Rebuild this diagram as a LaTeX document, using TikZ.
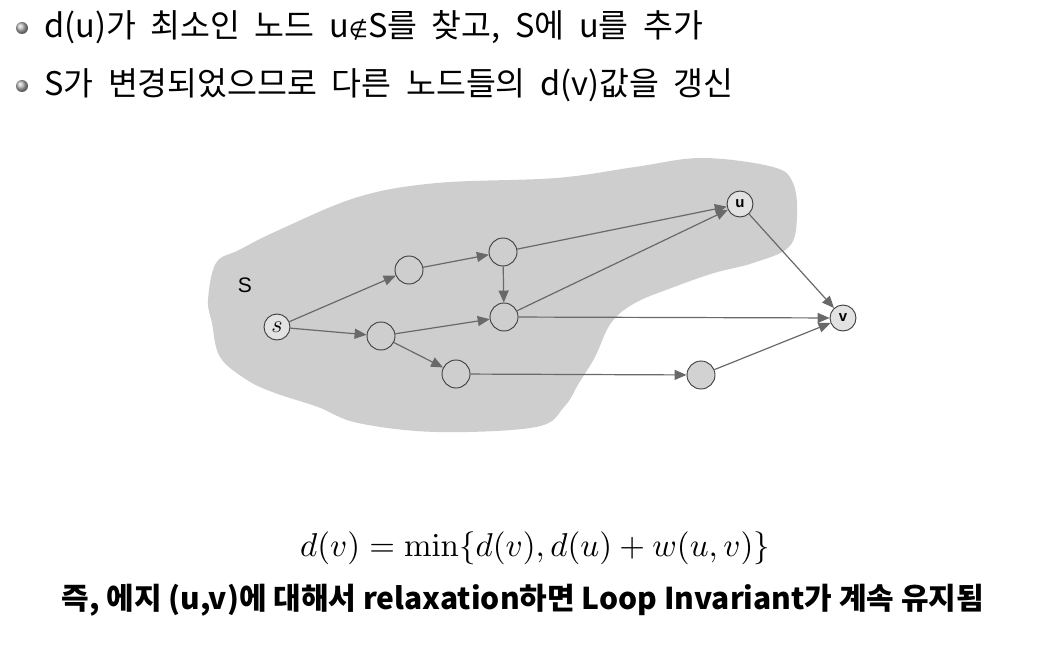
\documentclass[tikz,border=0pt]{standalone}
\usepackage[no-math]{fontspec}
\setmainfont{Noto Sans CJK KR}[WordSpace=2]
\newfontfamily\labelfont{Liberation Sans}
\newfontfamily\notefont{Noto Sans CJK KR}
\newfontfamily\symbolfont{DejaVu Sans}
\usepackage{amsmath}
\usetikzlibrary{arrows.meta, positioning, calc}
\definecolor{blobgray}{RGB}{206, 206, 206}
\definecolor{edgegray}{RGB}{105, 105, 105}
\definecolor{ringgray}{RGB}{60, 60, 60}
\definecolor{lightnode}{RGB}{226, 226, 226}
\definecolor{outnode}{RGB}{210, 210, 210}
\tikzset{
  vertex/.style={circle, draw=ringgray, line width=0.9pt, fill=blobgray, minimum size=28pt, inner sep=0pt},
  endvertex/.style={vertex, fill=lightnode, minimum size=26pt, font=\labelfont\bfseries\fontsize{15}{15}\selectfont},
  edge/.style={draw=edgegray, line width=1.2pt, -{Triangle[length=12pt, width=10pt]}},
  bullettext/.style={anchor=west, inner sep=0pt, font=\fontsize{32.5}{32.5}\selectfont},
  bulletdot/.style={circle, inner sep=0pt, minimum size=12pt, ball color=gray!55},
}

\begin{document}
\begin{tikzpicture}[x=1pt, y=-1pt]
  \useasboundingbox (0,0) rectangle (1045,661);

  % Bullets
  \node[bulletdot] (dot1) at (22,28) {};
  \node[bulletdot] (dot2) at (22,86) {};
  \node[bullettext] (line1) at (44,27) {d(u)가 최소인 노드 u{\symbolfont\fontsize{22}{22}\selectfont ∉}S를 찾고, S에 u를 추가};
  \node[bullettext] (line2) at (44,85) {S가 변경되었으므로 다른 노드들의 d(v)값을 갱신};

  % Set S
  \fill[blobgray] plot[smooth cycle, tension=0.6] coordinates {
    (208,300) (216,263) (239,250) (279,230) (358,197) (437,183) (556,178)
    (635,167) (702,158) (773,167) (793,183) (797,217) (789,247) (753,263)
    (714,273) (674,287) (635,303) (611,323) (595,357) (579,383) (564,407)
    (536,427) (437,432) (358,423) (318,407) (275,393) (247,380) (220,357)
    (212,323)};
  \node[font=\labelfont\fontsize{21}{21}\selectfont] (setlabel) at (245,285) {S};

  % Graph
  \node[endvertex] (s) at (277,327) {\scalebox{1.7}{$s$}};
  \node[vertex] (a) at (409,270) {};
  \node[vertex] (b) at (503,252) {};
  \node[vertex] (c) at (504,317) {};
  \node[vertex] (d) at (381,336) {};
  \node[vertex] (e) at (456,374) {};
  \node[vertex, fill=outnode] (f) at (701,375) {};
  \node[endvertex] (u) at (740,204) {u};
  \node[endvertex] (v) at (843,318) {v};

  \draw[edge] (s) -- (a);
  \draw[edge] (s) -- (d);
  \draw[edge] (a) -- (b);
  \draw[edge] (b) -- (c);
  \draw[edge] (b) -- (u);
  \draw[edge] (c) -- (u);
  \draw[edge] (d) -- (c);
  \draw[edge] (d) -- (e);
  \draw[edge] (e) -- (f);
  \draw[edge] (c) -- (v);
  \draw[edge] (u) -- (v);
  \draw[edge] (f) -- (v);

  % Relaxation
  \node (relax) at (535,548) {\scalebox{3.3}{$d(v) = \min\{d(v), d(u) + w(u,v)\}$}};
  \node[font=\notefont\bfseries\fontsize{30}{30}\selectfont] (note) at (523,600) {즉, 에지 (u,v)에 대해서 relaxation하면 Loop Invariant가 계속 유지됨};
\end{tikzpicture}
\end{document}
